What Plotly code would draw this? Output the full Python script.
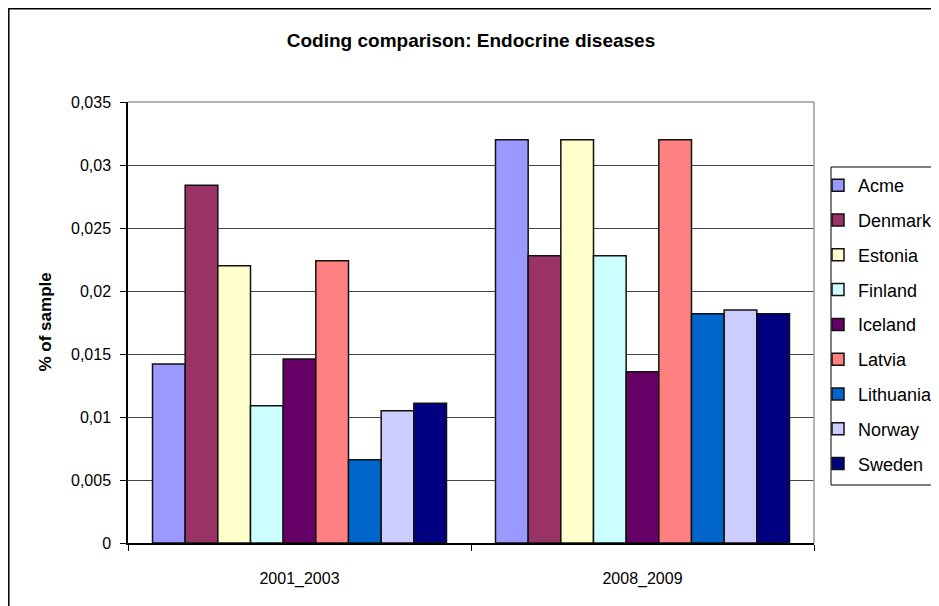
import plotly.graph_objects as go

categories = ["2001_2003", "2008_2009"]
series_names = ["Acme", "Denmark", "Estonia", "Finland", "Iceland",
                "Latvia", "Lithuania", "Norway", "Sweden"]
acme = [0.0142, 0.0320]
denmark = [0.0284, 0.0228]
estonia = [0.0220, 0.0320]
finland = [0.0109, 0.0228]
iceland = [0.0146, 0.0136]
latvia = [0.0224, 0.0320]
lithuania = [0.0066, 0.0182]
norway = [0.0105, 0.0185]
sweden = [0.0111, 0.0182]
series_values = [acme, denmark, estonia, finland, iceland, latvia, lithuania, norway, sweden]
colors = ["#9999FF", "#993366", "#FFFFCC", "#CCFFFF", "#660066",
          "#FF8080", "#0066CC", "#CCCCFF", "#000080"]

# page offset (browser body margin)
OFF = 8
W, H = 939, 606
# desired plot area in page pixels
PL, PR, PT, PB = 128, 814, 102, 543
L = PL - OFF
T = PT - OFF
R = W - (PR - OFF)
B = H - (PB - OFF)
pw, ph = W - L - R, H - T - B

def px(x):  # page x -> paper
    return (x - OFF - L) / pw

def py(y):  # page y -> paper
    return (H - B - (y - OFF)) / ph

FONT = "Liberation Sans, Arial, sans-serif"

fig = go.Figure()
for name, vals, col in zip(series_names, series_values, colors):
    fig.add_trace(go.Bar(
        x=categories, y=vals, name=name, legendgroup=name,
        marker=dict(color=col, line=dict(color="#111111", width=1.5)),
    ))

fig.update_layout(
    width=W, height=H,
    margin=dict(l=L, r=R, t=T, b=B, autoexpand=False),
    paper_bgcolor="white", plot_bgcolor="white",
    separators=", ",
    barmode="group", bargap=1.5 / 10.5, bargroupgap=0,
    font=dict(family=FONT, size=16, color="black"),
    title=dict(text="<b>Coding comparison: Endocrine diseases</b>",
               x=0.5, xref="paper", xanchor="center",
               y=1 - (40 - OFF) / H, yref="container", yanchor="middle",
               font=dict(family=FONT, size=19, color="black")),
    showlegend=True,
    legend=dict(x=px(818), y=py(167), xanchor="left", yanchor="top",
                bgcolor="rgba(0,0,0,0)", borderwidth=0,
                font=dict(family=FONT, size=18, color="black"),
                tracegroupgap=8.4, traceorder="grouped"),
    xaxis=dict(type="category", showline=True, linecolor="black", linewidth=1.5,
               ticks="outside", ticklen=6, tickcolor="black", tickson="boundaries",
               showgrid=False, ticklabelstandoff=20,
               tickfont=dict(family=FONT, size=16, color="black")),
    yaxis=dict(range=[0, 0.035], dtick=0.005, tick0=0, showline=True,
               linecolor="black", linewidth=1.5, ticks="outside", ticklen=6,
               tickcolor="black", showgrid=True, gridcolor="#444444", gridwidth=1,
               zeroline=False, ticklabelstandoff=6,
               tickfont=dict(family=FONT, size=16, color="black")),
    annotations=[dict(text="<b>% of sample</b>", textangle=-90,
                      x=px(45), y=0.5, xref="paper", yref="paper",
                      showarrow=False, xanchor="center", yanchor="middle",
                      font=dict(family=FONT, size=17, color="black"))],
    shapes=[
        dict(type="line", xref="paper", yref="paper", x0=0, x1=1, y0=1, y1=1,
             line=dict(color="#9a9a9a", width=1.5)),
        dict(type="line", xref="paper", yref="paper", x0=1, x1=1, y0=0, y1=1,
             line=dict(color="#9a9a9a", width=1.5)),
        dict(type="rect", xref="paper", yref="paper",
             x0=px(831), x1=px(970), y0=py(485), y1=py(167),
             line=dict(color="black", width=1)),
        dict(type="rect", xref="paper", yref="paper",
             x0=px(8.8), x1=px(970), y0=py(640), y1=py(8.8),
             line=dict(color="black", width=1.5)),
    ],
)

fig.write_html("out.html")
